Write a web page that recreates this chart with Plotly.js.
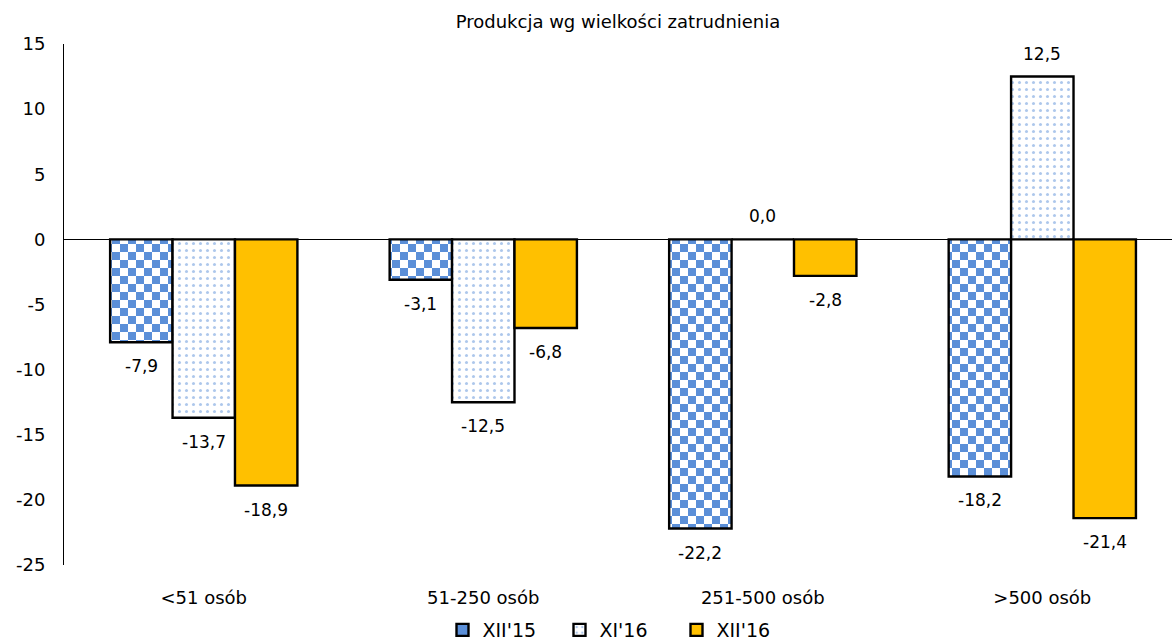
<!DOCTYPE html>
<html>
<head>
<meta charset="utf-8">
<script src="https://cdn.plot.ly/plotly-3.0.1.min.js"></script>
<style>
  html, body { margin: 0; padding: 0; background: #ffffff; }
  #chart { width: 1172px; height: 643px; }
</style>
</head>
<body>
<div id="chart"></div>
<script>
// Categories: enterprise size by number of employees
const categories = ['<51 osób', '51-250 osób', '251-500 osób', '>500 osób'];

// Production change per period, %
const seriesNames = ["XII'15", "XI'16", "XII'16"];
const valuesXII15 = [-7.9, -3.1, -22.2, -18.2];
const valuesXI16  = [-13.7, -12.5, 0.0, 12.5];
const valuesXII16 = [-18.9, -6.8, -2.8, -21.4];

// Y axis ticks
const yTickVals = [-25, -20, -15, -10, -5, 0, 5, 10, 15];
const yTickText = ['-25', '-20', '-15', '-10', '-5', '0', '5', '10', '15'];

const FONT = 'DejaVu Sans, Verdana, sans-serif';
const BLUE = '#5B8FD8';
const GOLD = '#FFC000';
const BARGAP = 0.33;

const fmt = v => v.toFixed(1).replace('.', ',');

const allSeries = [valuesXII15, valuesXI16, valuesXII16];

const traces = [
  {
    type: 'bar', name: seriesNames[0], x: categories, y: valuesXII15,
    marker: { color: BLUE, line: { color: '#000000', width: 2.4 } },
    hoverinfo: 'skip'
  },
  {
    type: 'bar', name: seriesNames[1], x: categories, y: valuesXI16,
    marker: {
      color: '#ffffff',
      line: { color: '#000000', width: 2.4 },
      pattern: { shape: '.', fgcolor: BLUE, bgcolor: '#ffffff', size: 7, solidity: 0.15, fillmode: 'overlay' }
    },
    hoverinfo: 'skip'
  },
  {
    type: 'bar', name: seriesNames[2], x: categories, y: valuesXII16,
    marker: { color: GOLD, line: { color: '#000000', width: 2.4 } },
    hoverinfo: 'skip'
  }
];

// Value labels placed just past the end of each bar
const barWidth = (1 - BARGAP) / allSeries.length;
const annotations = [];
allSeries.forEach((vals, k) => {
  vals.forEach((v, i) => {
    annotations.push({
      x: i + (k - (allSeries.length - 1) / 2) * barWidth,
      y: v,
      xref: 'x', yref: 'y',
      text: fmt(v),
      showarrow: false,
      yanchor: 'middle',
      yshift: v < 0 ? -24 : 23,
      font: { family: FONT, size: 17, color: '#000000' }
    });
  });
});

const layout = {
  width: 1172,
  height: 643,
  margin: { l: 64, r: 0, t: 44, b: 78, pad: 0, autoexpand: false },
  paper_bgcolor: '#ffffff',
  plot_bgcolor: '#ffffff',
  font: { family: FONT, size: 17, color: '#000000' },
  title: {
    text: 'Produkcja wg wielkości zatrudnienia',
    font: { family: FONT, size: 18, color: '#000000' },
    x: 0.5, xref: 'paper', xanchor: 'center',
    y: 22, yref: 'container', yanchor: 'middle',
    automargin: false
  },
  barmode: 'group',
  bargap: BARGAP,
  bargroupgap: 0,
  showlegend: true,
  legend: {
    orientation: 'h',
    x: 0.5, xanchor: 'center', xref: 'paper',
    y: 13 / 643, yref: 'container', yanchor: 'middle',
    font: { family: FONT, size: 19, color: '#000000' },
    itemwidth: 30,
    entrywidth: 72,
    entrywidthmode: 'pixels',
    traceorder: 'normal'
  },
  xaxis: {
    type: 'category',
    range: [-0.5, 3.464],
    showline: false,
    showgrid: false,
    zeroline: false,
    ticks: '',
    ticklabelstandoff: 20,
    tickfont: { family: FONT, size: 18, color: '#000000' },
    fixedrange: true
  },
  yaxis: {
    range: [-25, 15],
    tickvals: yTickVals,
    ticktext: yTickText,
    showline: true,
    linecolor: '#000000',
    linewidth: 1,
    showgrid: false,
    zeroline: true,
    zerolinecolor: '#000000',
    zerolinewidth: 1,
    ticks: '',
    ticklabelstandoff: 14,
    tickfont: { family: FONT, size: 18, color: '#000000' },
    fixedrange: true
  },
  annotations: annotations
};

// Checkerboard texture for the XII'15 bars
function applyChecker(gd) {
  const svg = gd.querySelector('svg.main-svg');
  if (!svg) return;
  const NS = 'http://www.w3.org/2000/svg';
  let defs = svg.querySelector('defs');
  if (!defs) { defs = document.createElementNS(NS, 'defs'); svg.insertBefore(defs, svg.firstChild); }
  if (!svg.querySelector('#checker-xii15')) {
    const pat = document.createElementNS(NS, 'pattern');
    pat.setAttribute('id', 'checker-xii15');
    pat.setAttribute('patternUnits', 'userSpaceOnUse');
    pat.setAttribute('width', '16');
    pat.setAttribute('height', '16');
    const cells = [
      [0, 0, 16, 16, '#ffffff'],
      [0, 0, 8, 8, BLUE],
      [8, 8, 8, 8, BLUE]
    ];
    cells.forEach(c => {
      const r = document.createElementNS(NS, 'rect');
      r.setAttribute('x', c[0]); r.setAttribute('y', c[1]);
      r.setAttribute('width', c[2]); r.setAttribute('height', c[3]);
      r.setAttribute('fill', c[4]);
      pat.appendChild(r);
    });
    defs.appendChild(pat);
  }
  const barTraces = gd.querySelectorAll('.barlayer .trace');
  if (barTraces.length) {
    barTraces[0].querySelectorAll('.point path').forEach(p => {
      p.style.fill = 'url(#checker-xii15)';
    });
  }
}

const gd = document.getElementById('chart');
Plotly.newPlot(gd, traces, layout, { displayModeBar: false, staticPlot: true }).then(() => {
  applyChecker(gd);
  gd.on && gd.on('plotly_afterplot', () => applyChecker(gd));
});
</script>
</body>
</html>
